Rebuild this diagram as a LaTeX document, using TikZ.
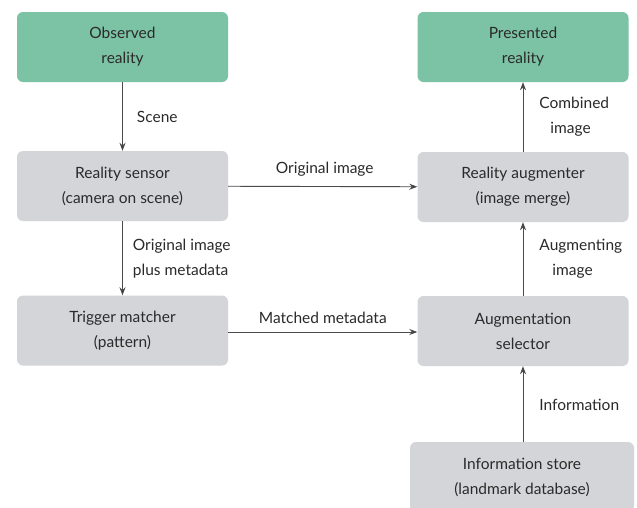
\documentclass[tikz,border=0pt]{standalone}
\usepackage{fontspec}
\setmainfont{Lato}
\usetikzlibrary{arrows.meta}
\definecolor{boxgreen}{HTML}{7CC2A4}
\definecolor{boxgray}{HTML}{D4D5D9}
\definecolor{txt}{HTML}{2A2A2A}
\definecolor{linec}{HTML}{4A4A4A}
\tikzset{
  blk/.style={rounded corners=6pt, minimum width=211pt, minimum height=70pt, align=center, text=txt, font=\fontsize{15.5}{25}\selectfont, inner sep=0pt},
  greenbox/.style={blk, fill=boxgreen},
  graybox/.style={blk, fill=boxgray},
  conn/.style={draw=linec, line width=0.9pt, -{Stealth[length=8pt,width=6pt,fill=txt]}},
  lbl/.style={text=txt, font=\fontsize{15.5}{25}\selectfont, align=left, inner sep=0pt}
}
\begin{document}
\begin{tikzpicture}[x=1pt,y=-1pt]
\clip (0,0) rectangle (637,507);
\fill[white] (0,0) rectangle (637,507);
\node[greenbox] (obs) at (122.5,47) {Observed\\reality};
\node[graybox] (sens) at (122.5,186) {Reality sensor\\(camera on scene)};
\node[graybox] (trig) at (122.5,330.5) {Trigger matcher\\(pattern)};
\node[greenbox] (pres) at (523,47) {Presented\\reality};
\node[graybox] (aug) at (523,187) {Reality augmenter\\(image merge)};
\node[graybox] (sel) at (523,331) {Augmentation\\selector};
\node[graybox, minimum width=224pt] (store) at (522,477) {Information store\\(landmark database)};
\draw[conn] (obs) -- (sens) node[lbl, midway, right=14pt] {Scene};
\draw[conn] (sens) -- (trig) node[lbl, midway, right=10pt] {Original image\\plus metadata};
\draw[conn] (sens) -- (aug) node[lbl, midway, above=10pt, xshift=2pt] {Original image};
\draw[conn] (trig.east |- 0,332) -- (sel.west |- 0,332) node[lbl, midway, above=8pt] {Matched metadata};
\draw[conn] (aug) -- (pres) node[lbl, midway, right=16pt] {Combined\\\hspace*{11pt}image};
\draw[conn] (sel) -- (aug) node[lbl, midway, right=16pt] {Augmenting\\\hspace*{13pt}image};
\draw[conn] (store.north -| sel) -- (sel) node[lbl, midway, right=16pt, yshift=-1pt] {Information};
\end{tikzpicture}
\end{document}
